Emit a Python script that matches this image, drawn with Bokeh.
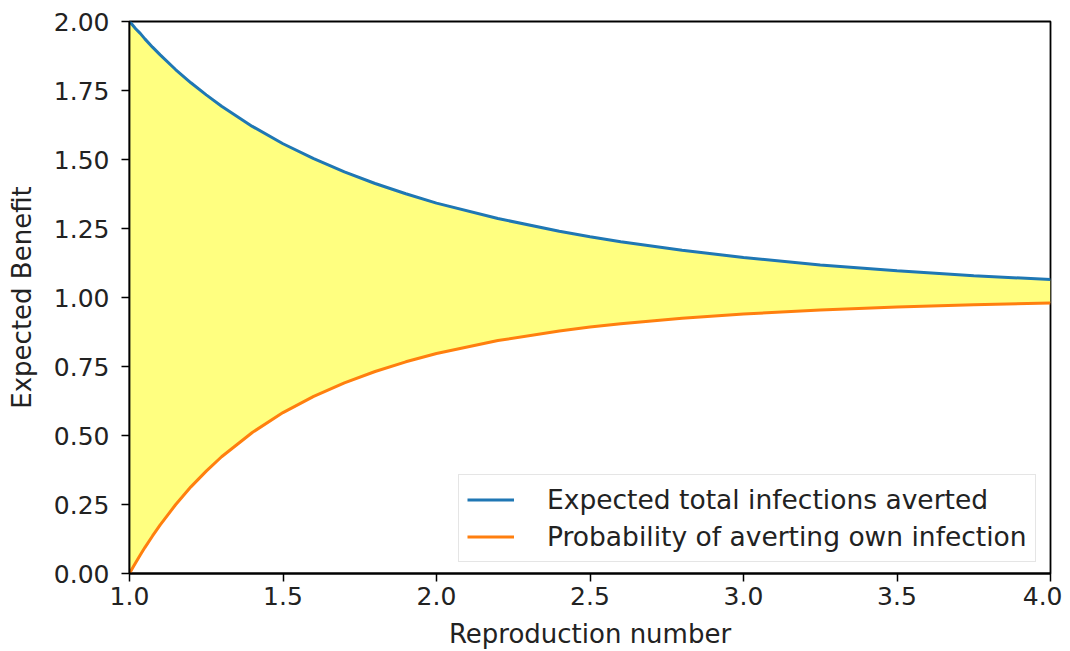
from bokeh.plotting import figure
from bokeh.models import Range1d, FixedTicker, NumeralTickFormatter, Legend, LegendItem, ColumnDataSource
from bokeh.embed import file_html
from bokeh.resources import INLINE

# Reproduction number samples (x)
reproduction_number = [1.00, 1.01, 1.02, 1.035, 1.05, 1.075, 1.10, 1.15, 1.20, 1.25, 1.30, 1.40,
                       1.50, 1.60, 1.70, 1.80, 1.90, 2.00, 2.20, 2.40, 2.50, 2.60, 2.80, 3.00,
                       3.25, 3.50, 3.75, 4.00]
# Expected total infections averted (blue)
total_averted = [2.000, 1.987, 1.974, 1.957, 1.937, 1.907, 1.879, 1.826, 1.778, 1.734, 1.693, 1.620,
                 1.557, 1.503, 1.455, 1.413, 1.376, 1.342, 1.286, 1.240, 1.220, 1.202, 1.171, 1.145,
                 1.118, 1.097, 1.079, 1.065]
# Probability of averting own infection (orange)
own_averted = [0.000, 0.020, 0.039, 0.067, 0.094, 0.136, 0.176, 0.249, 0.314, 0.371, 0.423, 0.511,
               0.583, 0.642, 0.691, 0.732, 0.767, 0.797, 0.844, 0.879, 0.893, 0.905, 0.925, 0.940,
               0.955, 0.966, 0.974, 0.980]

x_ticks = [1.0, 1.5, 2.0, 2.5, 3.0, 3.5, 4.0]
y_ticks = [0.0, 0.25, 0.5, 0.75, 1.0, 1.25, 1.5, 1.75, 2.0]
series_labels = ["Expected total infections averted", "Probability of averting own infection"]

FONT = "DejaVu Sans"
TICK_FS = "25px"
LABEL_FS = "26px"

src = ColumnDataSource(dict(x=reproduction_number, blue=total_averted, orange=own_averted))

p = figure(width=1062, height=651, output_backend="svg", toolbar_location=None,
           x_range=Range1d(1.0, 4.0), y_range=Range1d(0.0, 2.0),
           min_border_left=129, min_border_right=12, min_border_top=21, min_border_bottom=77)
p.xgrid.visible = False
p.ygrid.visible = False
p.outline_line_color = "black"
p.outline_line_width = 1.8
p.background_fill_color = "white"
p.border_fill_color = "white"

p.varea(x="x", y1="orange", y2="blue", source=src, fill_color="#ffff80")
r_blue = p.line("x", "blue", source=src, line_color="#1f77b4", line_width=3)
r_orange = p.line("x", "orange", source=src, line_color="#ff7f0e", line_width=3)

for ax in (p.xaxis[0], p.yaxis[0]):
    ax.axis_line_color = "black"
    ax.axis_line_width = 1.8
    ax.major_tick_line_color = "black"
    ax.major_tick_line_width = 1.5
    ax.major_tick_out = 8
    ax.major_tick_in = 0
    ax.minor_tick_line_color = None
    ax.major_label_text_font = FONT
    ax.major_label_text_font_size = TICK_FS
    ax.major_label_text_color = "#222222"
    ax.axis_label_text_font = FONT
    ax.axis_label_text_font_size = LABEL_FS
    ax.axis_label_text_font_style = "normal"
    ax.axis_label_text_color = "#222222"

p.xaxis.ticker = FixedTicker(ticks=x_ticks)
p.yaxis.ticker = FixedTicker(ticks=y_ticks)
p.xaxis.formatter = NumeralTickFormatter(format="0.0")
p.yaxis.formatter = NumeralTickFormatter(format="0.00")
p.xaxis.axis_label = "Reproduction number"
p.yaxis.axis_label = "Expected Benefit"
p.xaxis.major_label_standoff = 5
p.yaxis.major_label_standoff = 12
p.xaxis.axis_label_standoff = 11
p.yaxis.axis_label_standoff = 14

legend = Legend(items=[LegendItem(label=series_labels[0], renderers=[r_blue]),
                       LegendItem(label=series_labels[1], renderers=[r_orange])],
                location=(329, 11))
legend.label_text_font = FONT
legend.label_text_font_size = "26.5px"
legend.label_text_color = "#222222"
legend.glyph_width = 47
legend.glyph_height = 33
legend.label_height = 33
legend.label_standoff = 33
legend.spacing = 4
legend.padding = 8
legend.margin = 0
legend.border_line_color = "#cccccc"
legend.border_line_width = 1
legend.background_fill_alpha = 0.8
p.add_layout(legend, "center")

open("out.html", "w").write(file_html(p, INLINE))
